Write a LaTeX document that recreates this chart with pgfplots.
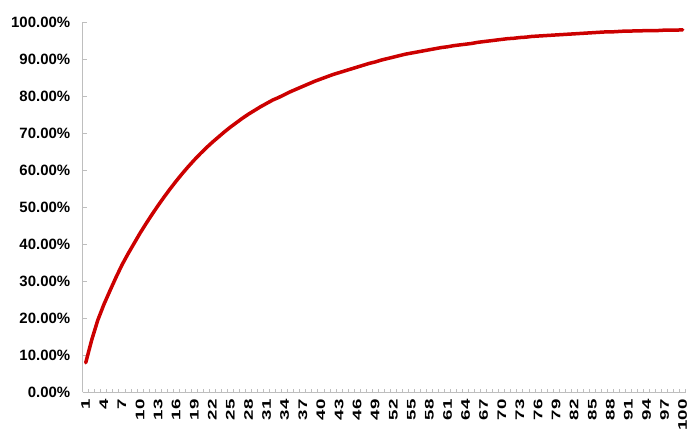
\documentclass[border=0pt]{standalone}
\usepackage{pgfplots}
\pgfplotsset{compat=1.18}
\usepackage{pgfplotstable}
\usepackage{fontspec}
\setmainfont{Liberation Sans}
\definecolor{curve}{RGB}{204,0,0}
\definecolor{axgray}{RGB}{190,190,190}
\pgfplotstableread{
n v
1 7.9
2 14.1
3 19.4
4 23.6
5 27.3
6 30.9
7 34.3
8 37.3
9 40.1
10 42.9
11 45.5
12 48.0
13 50.4
14 52.7
15 54.9
16 57.0
17 59.0
18 60.9
19 62.7
20 64.4
21 66.0
22 67.5
23 68.9
24 70.3
25 71.6
26 72.8
27 74.0
28 75.1
29 76.1
30 77.1
31 78.0
32 78.9
33 79.6
34 80.4
35 81.2
36 81.9
37 82.6
38 83.3
39 84.0
40 84.6
41 85.2
42 85.8
43 86.3
44 86.8
45 87.3
46 87.8
47 88.3
48 88.8
49 89.2
50 89.7
51 90.1
52 90.5
53 90.9
54 91.3
55 91.6
56 91.9
57 92.2
58 92.5
59 92.8
60 93.1
61 93.3
62 93.6
63 93.8
64 94.0
65 94.2
66 94.5
67 94.7
68 94.9
69 95.1
70 95.3
71 95.5
72 95.6
73 95.8
74 95.9
75 96.1
76 96.2
77 96.3
78 96.4
79 96.5
80 96.6
81 96.7
82 96.8
83 96.9
84 97.0
85 97.1
86 97.2
87 97.3
88 97.3
89 97.4
90 97.5
91 97.5
92 97.6
93 97.6
94 97.7
95 97.7
96 97.7
97 97.8
98 97.8
99 97.8
100 97.9
}\datatable
\begin{document}
\begin{tikzpicture}
\begin{axis}[name=ax,
  scale only axis, width=603bp, height=370bp,
  xmin=0.5, xmax=100.5, ymin=0, ymax=100,
  axis x line*=bottom, axis y line*=left,
  axis line style={axgray, line width=1bp},
  clip=false,
  xtick={1,4,...,100},
  xticklabels={1,4,7,10,13,16,19,22,25,28,31,34,37,40,43,46,49,52,55,58,61,64,67,70,73,76,79,82,85,88,91,94,97,100},
  major x tick style={draw=none},
  minor xtick={1.5,2.5,...,100.5},
  minor x tick style={axgray, line width=0.8bp},
  minor tick length=3.5bp,
  ytick={0,10,...,100},
  major y tick style={axgray, line width=0.8bp},
  major tick length=4.5bp,
  tick align=inside,
  yticklabel={\pgfmathprintnumber[fixed,fixed zerofill,precision=2,assume math mode=true]{\tick}\%},
  yticklabel style={font=\bfseries\fontsize{15}{17}\selectfont, xshift=-9bp},
  xticklabel style={rotate=90, anchor=east, font=\bfseries\fontsize{12.5}{13}\selectfont, xscale=1.5, inner sep=0pt},
  xticklabel shift=7bp,
]
\addplot[curve, line width=3.5bp, line join=round, line cap=round] table[x=n, y=v] {\datatable};
\end{axis}
\pgfresetboundingbox
\path (ax.south west) ++(-82.7bp,-40bp) rectangle ++(696bp,432bp);
\end{tikzpicture}
\end{document}
